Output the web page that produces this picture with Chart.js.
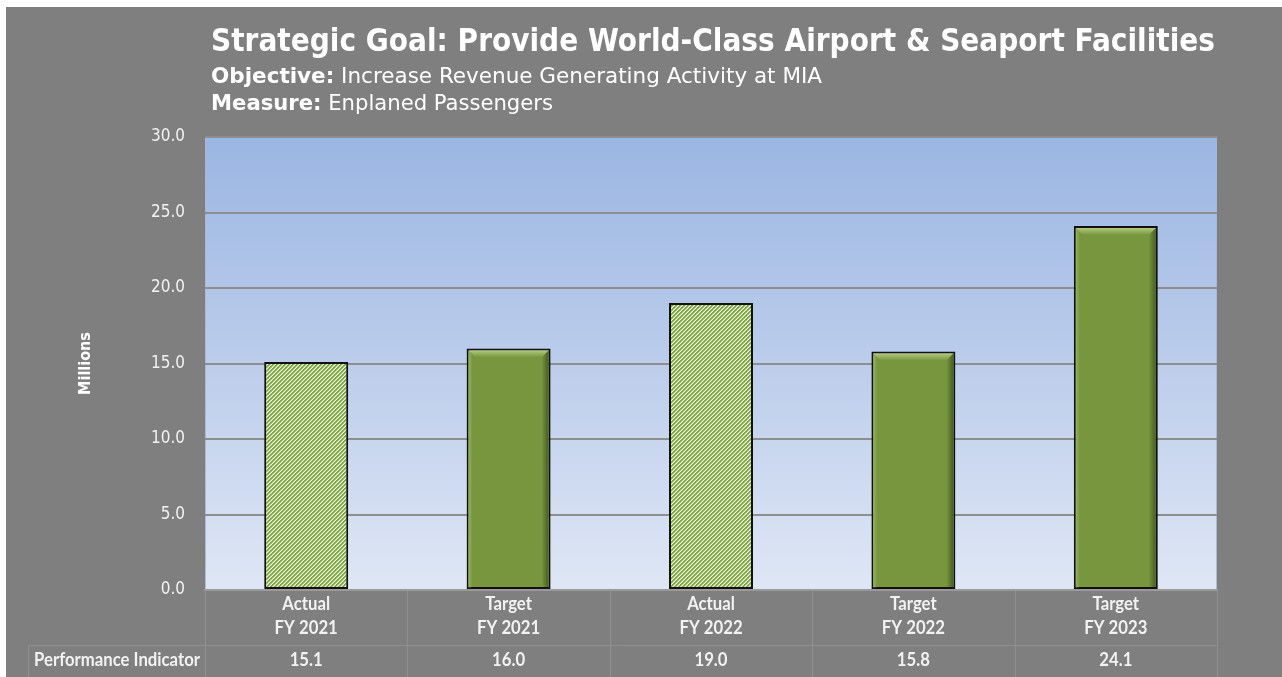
<!DOCTYPE html>
<html>
<head>
<meta charset="utf-8">
<title>Enplaned Passengers</title>
<script src="https://cdn.jsdelivr.net/npm/chart.js@4.4.0/dist/chart.umd.min.js"></script>
<style>
  html, body { margin: 0; padding: 0; background: #ffffff; overflow: hidden; }
  #wrap { width: 1282px; height: 677px; position: relative; }
  canvas { display: block; }
</style>
</head>
<body>
<div id="wrap"><canvas id="chart" width="1282" height="677"></canvas></div>
<script>
// ---- data ----
const categories = [["Actual", "FY 2021"], ["Target", "FY 2021"], ["Actual", "FY 2022"], ["Target", "FY 2022"], ["Target", "FY 2023"]];
const seriesType = ["Actual", "Target", "Actual", "Target", "Target"];
const passengers = [15.1, 16.0, 19.0, 15.8, 24.1];
const indicatorLabel = "Performance Indicator";
const yMin = 0, yMax = 30, yStep = 5;
const yAxisTitle = "Millions";
const titleText = "Strategic Goal: Provide World-Class Airport & Seaport Facilities";
const objectiveLine = ["Objective:", " Increase Revenue Generating Activity at MIA"];
const measureLine = ["Measure:", " Enplaned Passengers"];

// ---- styling ----
const PAGE_GRAY = "#7f7f7f";
const TEXT = "#f2f2f2";
const TABLE_LINE = "#8f8f8f";
const SOLID_GREEN = "#78963e";
const HEAD_FONT = "'DejaVu Sans Condensed', 'DejaVu Sans', sans-serif";
const TABLE_FONT = "Lato, 'Open Sans', sans-serif";
const TABLE_SCALE_X = 0.88;

const canvas = document.getElementById("chart");
const ctx = canvas.getContext("2d");

// diagonal hatch used for the "Actual" bars
function makeHatch() {
  const s = 4;
  const tile = document.createElement("canvas");
  tile.width = s; tile.height = s;
  const g = tile.getContext("2d");
  const img = g.createImageData(s, s);
  const tones = [[128, 168, 66], [128, 168, 66], [188, 210, 150], [240, 245, 230]];
  for (let y = 0; y < s; y++) {
    for (let x = 0; x < s; x++) {
      const c = tones[(x + y) % s];
      const o = (y * s + x) * 4;
      img.data[o] = c[0]; img.data[o + 1] = c[1]; img.data[o + 2] = c[2]; img.data[o + 3] = 255;
    }
  }
  g.putImageData(img, 0, 0);
  return ctx.createPattern(tile, "repeat");
}
const hatch = makeHatch();
const barFills = seriesType.map(t => t === "Actual" ? hatch : SOLID_GREEN);

// page frame and plot background
const backdrop = {
  id: "backdrop",
  beforeDraw(chart) {
    const c = chart.ctx, a = chart.chartArea;
    c.save();
    c.fillStyle = "#ffffff";
    c.fillRect(0, 0, chart.width, chart.height);
    c.fillStyle = PAGE_GRAY;
    c.fillRect(6, 7, chart.width - 6, chart.height - 7);
    const grad = c.createLinearGradient(0, a.top, 0, a.bottom);
    grad.addColorStop(0, "#9bb6e3");
    grad.addColorStop(0.5, "#bccdeb");
    grad.addColorStop(1, "#dfe7f5");
    c.fillStyle = grad;
    c.fillRect(a.left, a.top, a.right - a.left, a.bottom - a.top);
    c.strokeStyle = "rgba(170,182,205,0.9)";
    c.lineWidth = 1;
    c.strokeRect(a.left + 0.5, a.top + 0.5, a.right - a.left - 1, a.bottom - a.top - 1);
    c.restore();
  }
};

// bevelled edges on the solid bars
const bevel = {
  id: "bevel",
  afterDatasetsDraw(chart) {
    const c = chart.ctx;
    const meta = chart.getDatasetMeta(0);
    meta.data.forEach((bar, i) => {
      if (seriesType[i] !== "Target") return;
      const p = bar.getProps(["x", "y", "base", "width"], true);
      const L = p.x - p.width / 2 + 2, R = p.x + p.width / 2 - 2, T = p.y + 2, B = p.base - 1;
      const d = 7;
      c.save();
      // top highlight
      let g = c.createLinearGradient(0, T, 0, T + d);
      g.addColorStop(0, "rgba(215,235,170,0.6)");
      g.addColorStop(1, "rgba(215,235,170,0.0)");
      c.fillStyle = g;
      c.beginPath();
      c.moveTo(L, T); c.lineTo(R, T); c.lineTo(R - d, T + d); c.lineTo(L + d, T + d); c.closePath();
      c.fill();
      // right shade
      g = c.createLinearGradient(R, 0, R - d, 0);
      g.addColorStop(0, "rgba(30,45,10,0.55)");
      g.addColorStop(1, "rgba(30,45,10,0.0)");
      c.fillStyle = g;
      c.beginPath();
      c.moveTo(R, T); c.lineTo(R, B); c.lineTo(R - d, B - 2); c.lineTo(R - d, T + d); c.closePath();
      c.fill();
      // left light edge
      g = c.createLinearGradient(L, 0, L + 4, 0);
      g.addColorStop(0, "rgba(200,225,150,0.35)");
      g.addColorStop(1, "rgba(200,225,150,0.0)");
      c.fillStyle = g;
      c.beginPath();
      c.moveTo(L, T); c.lineTo(L + 4, T + 4); c.lineTo(L + 4, B); c.lineTo(L, B); c.closePath();
      c.fill();
      c.restore();
    });
  }
};

// text run squeezed or stretched to a given width
function drawRun(c, parts, x, baseline, width) {
  let natural = 0;
  parts.forEach(p => { c.font = p.font; natural += c.measureText(p.text).width; });
  const sx = width / natural;
  c.save();
  c.translate(x, baseline);
  c.scale(sx, 1);
  let cx = 0;
  parts.forEach(p => { c.font = p.font; c.fillText(p.text, cx, 0); cx += c.measureText(p.text).width; });
  c.restore();
}

// centred table text with a narrow look
function drawCell(c, text, x, y) {
  c.save();
  c.translate(x, y);
  c.scale(TABLE_SCALE_X, 1);
  c.fillText(text, 0, 0);
  c.restore();
}

// header text, y-axis title and the data table under the plot
const annotations = {
  id: "annotations",
  afterDraw(chart) {
    const c = chart.ctx, a = chart.chartArea, xs = chart.scales.x;
    c.save();
    c.fillStyle = "#ffffff";
    c.textAlign = "left";
    c.textBaseline = "alphabetic";
    drawRun(c, [{ text: titleText, font: "bold 32px " + HEAD_FONT }], 211, 51, 1004);
    drawRun(c, [
      { text: objectiveLine[0], font: "bold 22px " + HEAD_FONT },
      { text: objectiveLine[1], font: "22px " + HEAD_FONT }
    ], 211, 83, 611);
    drawRun(c, [
      { text: measureLine[0], font: "bold 22px " + HEAD_FONT },
      { text: measureLine[1], font: "22px " + HEAD_FONT }
    ], 211, 110, 342);

    // y-axis title
    c.save();
    c.translate(86, (a.top + a.bottom) / 2);
    c.rotate(-Math.PI / 2);
    c.font = "bold 16px " + HEAD_FONT;
    c.textAlign = "center";
    c.textBaseline = "middle";
    c.fillStyle = "#ffffff";
    c.fillText(yAxisTitle, 0, 0);
    c.restore();

    // table grid
    const n = categories.length;
    const cw = (a.right - a.left) / n;
    const rowSplit = 645.5;
    const tableBottom = chart.height;
    c.strokeStyle = TABLE_LINE;
    c.lineWidth = 1;
    c.beginPath();
    for (let i = 0; i <= n; i++) {
      const x = Math.round(a.left + i * cw) + 0.5;
      c.moveTo(x, a.bottom + 1);
      c.lineTo(x, tableBottom);
    }
    c.moveTo(28, rowSplit); c.lineTo(a.right, rowSplit);
    c.moveTo(28.5, rowSplit); c.lineTo(28.5, tableBottom);
    c.stroke();

    // category labels and indicator row
    c.fillStyle = TEXT;
    c.font = "bold 19px " + TABLE_FONT;
    c.textAlign = "center";
    c.textBaseline = "middle";
    categories.forEach((lines, i) => {
      const x = xs.getPixelForValue(i);
      lines.forEach((t, k) => drawCell(c, t, x, 604 + k * 24));
      drawCell(c, passengers[i].toFixed(1), x, 660);
    });
    drawCell(c, indicatorLabel, 117, 660);
    c.restore();
  }
};

new Chart(ctx, {
  type: "bar",
  data: {
    labels: categories,
    datasets: [{
      data: passengers,
      backgroundColor: barFills,
      borderColor: "#111111",
      borderWidth: 2,
      borderSkipped: false,
      barPercentage: 0.415,
      categoryPercentage: 1.0
    }]
  },
  options: {
    responsive: false,
    animation: false,
    devicePixelRatio: 1,
    layout: { padding: { top: 137, right: 65, left: 0, bottom: 0 } },
    plugins: { legend: { display: false }, tooltip: { enabled: false }, title: { display: false } },
    scales: {
      x: {
        grid: { display: false, drawTicks: false },
        border: { display: true, color: "#9a9a9a", width: 2 },
        ticks: { display: false },
        afterFit(scale) { scale.height = 87; }
      },
      y: {
        min: yMin,
        max: yMax,
        grid: { color: "#8e8e8e", lineWidth: 2, drawTicks: false },
        border: { display: false },
        ticks: {
          stepSize: yStep,
          color: TEXT,
          padding: 20,
          font: { family: HEAD_FONT, size: 17 },
          callback: v => Number(v).toFixed(1)
        },
        afterFit(scale) { scale.width = 205; }
      }
    }
  },
  plugins: [backdrop, bevel, annotations]
});
</script>
</body>
</html>
